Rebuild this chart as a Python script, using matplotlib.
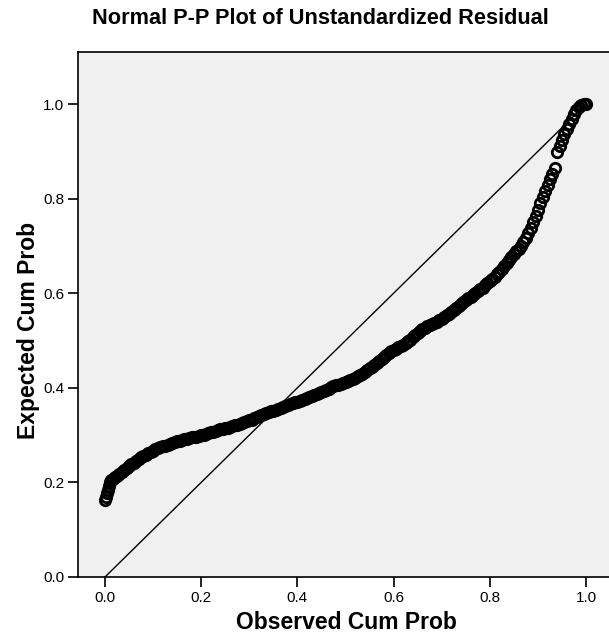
import numpy as np
import matplotlib.pyplot as plt

plt.rcParams['font.family'] = ['Liberation Sans', 'DejaVu Sans']

# observed vs expected cumulative probabilities
observed = [0.000, 0.002, 0.004, 0.006, 0.008, 0.010, 0.013, 0.016,
            0.020, 0.025, 0.030, 0.035, 0.040, 0.045, 0.050, 0.055, 0.060, 0.065,
            0.070, 0.075, 0.080, 0.085, 0.090, 0.095, 0.100, 0.105, 0.110, 0.115,
            0.120, 0.125, 0.130, 0.135, 0.140, 0.145, 0.150, 0.155, 0.160, 0.165,
            0.170, 0.175, 0.180, 0.185, 0.190, 0.195, 0.200, 0.205, 0.210, 0.215,
            0.220, 0.225, 0.230, 0.235, 0.240, 0.245, 0.250, 0.255, 0.260, 0.265,
            0.270, 0.275, 0.280, 0.285, 0.290, 0.295, 0.300, 0.305, 0.310, 0.315,
            0.320, 0.325, 0.330, 0.335, 0.340, 0.345, 0.350, 0.355, 0.360, 0.365,
            0.370, 0.375, 0.380, 0.385, 0.390, 0.395, 0.400, 0.405, 0.410, 0.415,
            0.420, 0.425, 0.430, 0.435, 0.440, 0.445, 0.450, 0.455, 0.460, 0.465,
            0.470, 0.475, 0.480, 0.485, 0.490, 0.495, 0.500, 0.505, 0.510, 0.515,
            0.520, 0.525, 0.530, 0.535, 0.540, 0.545, 0.550, 0.555, 0.560, 0.565,
            0.570, 0.575, 0.580, 0.585, 0.590, 0.595, 0.600, 0.605, 0.610, 0.615,
            0.620, 0.625, 0.630, 0.635, 0.640, 0.645, 0.650, 0.655, 0.660, 0.665,
            0.670, 0.675, 0.680, 0.685, 0.690, 0.695, 0.700, 0.705, 0.710, 0.715,
            0.720, 0.725, 0.730, 0.735, 0.740, 0.745, 0.750, 0.755, 0.760, 0.765,
            0.770, 0.775, 0.780, 0.785, 0.790, 0.795, 0.800, 0.805, 0.810, 0.815,
            0.820, 0.825, 0.830, 0.835, 0.840, 0.845, 0.850, 0.855, 0.860, 0.865,
            0.870, 0.875, 0.880, 0.885, 0.890, 0.895, 0.900, 0.905, 0.910, 0.915,
            0.920, 0.925, 0.930, 0.935, 0.940, 0.945, 0.950, 0.955, 0.960, 0.965,
            0.970, 0.975, 0.980, 0.985, 0.990, 0.995, 1.000]
expected = [0.163, 0.170, 0.177, 0.185, 0.192, 0.200, 0.205, 0.208,
            0.211, 0.214, 0.218, 0.222, 0.226, 0.230, 0.234, 0.238, 0.242, 0.246,
            0.249, 0.253, 0.256, 0.259, 0.262, 0.265, 0.267, 0.270, 0.272, 0.274,
            0.276, 0.278, 0.280, 0.282, 0.284, 0.285, 0.287, 0.288, 0.290, 0.291,
            0.292, 0.293, 0.295, 0.296, 0.297, 0.298, 0.300, 0.301, 0.303, 0.304,
            0.306, 0.307, 0.309, 0.310, 0.312, 0.313, 0.315, 0.316, 0.318, 0.319,
            0.321, 0.322, 0.324, 0.325, 0.327, 0.329, 0.331, 0.333, 0.336, 0.338,
            0.341, 0.343, 0.345, 0.346, 0.348, 0.350, 0.352, 0.354, 0.356, 0.357,
            0.359, 0.361, 0.363, 0.365, 0.367, 0.369, 0.371, 0.373, 0.375, 0.377,
            0.379, 0.381, 0.383, 0.385, 0.387, 0.389, 0.391, 0.393, 0.396, 0.398,
            0.401, 0.403, 0.405, 0.407, 0.409, 0.411, 0.413, 0.415, 0.417, 0.419,
            0.421, 0.424, 0.427, 0.430, 0.434, 0.437, 0.441, 0.444, 0.448, 0.452,
            0.456, 0.460, 0.465, 0.469, 0.473, 0.477, 0.480, 0.483, 0.486, 0.488,
            0.491, 0.494, 0.498, 0.502, 0.507, 0.511, 0.516, 0.520, 0.524, 0.527,
            0.530, 0.532, 0.535, 0.537, 0.540, 0.543, 0.546, 0.549, 0.553, 0.557,
            0.561, 0.565, 0.569, 0.573, 0.577, 0.581, 0.585, 0.589, 0.593, 0.596,
            0.600, 0.604, 0.608, 0.612, 0.617, 0.621, 0.626, 0.630, 0.635, 0.640,
            0.645, 0.651, 0.657, 0.663, 0.670, 0.676, 0.683, 0.689, 0.694, 0.700,
            0.708, 0.717, 0.727, 0.738, 0.751, 0.764, 0.777, 0.790, 0.803, 0.816,
            0.829, 0.841, 0.853, 0.865, 0.899, 0.912, 0.925, 0.937, 0.948, 0.958,
            0.968, 0.978, 0.987, 0.994, 0.998, 1.000, 1.001]

ticks = [0.0, 0.2, 0.4, 0.6, 0.8, 1.0]
tick_labels = ['0.0', '0.2', '0.4', '0.6', '0.8', '1.0']

fig = plt.figure(figsize=(6.09, 6.40), dpi=100)
# plot frame: left edge at 78px, top at 52px, bottom at 577px, runs off the right edge
ax = fig.add_axes([78 / 609, 63 / 640, 534 / 609, 525 / 640])
ax.set_facecolor('#f0f0f0')

# reference line
ax.plot([0, 1], [0, 1], color='black', linewidth=1.0, zorder=2)
ax.plot(observed, expected, linestyle='none', marker='o', markersize=7.5,
        markerfacecolor='none', markeredgecolor='black', markeredgewidth=2.0, zorder=3)

ax.set_xlim(-0.0561, 1.054)
ax.set_ylim(0.0, 1.110)
ax.set_xticks(ticks)
ax.set_xticklabels(tick_labels)
ax.set_yticks(ticks)
ax.set_yticklabels(tick_labels)
ax.tick_params(direction='out', length=7.5, width=1.2, labelsize=11, colors='black', pad=2.5)
for side in ['left', 'bottom', 'top']:
    ax.spines[side].set_linewidth(1.2)
ax.spines['right'].set_visible(False)

ax.set_xlabel('Observed Cum Prob', fontsize=16.5, fontweight='bold')
ax.xaxis.set_label_coords((346 - 78) / 534, (577 - 611) / 525)
ax.set_ylabel('Expected Cum Prob', fontsize=16.5, fontweight='bold')
ax.yaxis.set_label_coords((40 - 78) / 534, (577 - 330) / 525)

fig.text(320 / 609, 1 - 19 / 640, 'Normal P-P Plot of Unstandardized Residual',
         ha='center', va='center', fontsize=15.7, fontweight='bold')

fig.savefig('out.png', dpi=100)
